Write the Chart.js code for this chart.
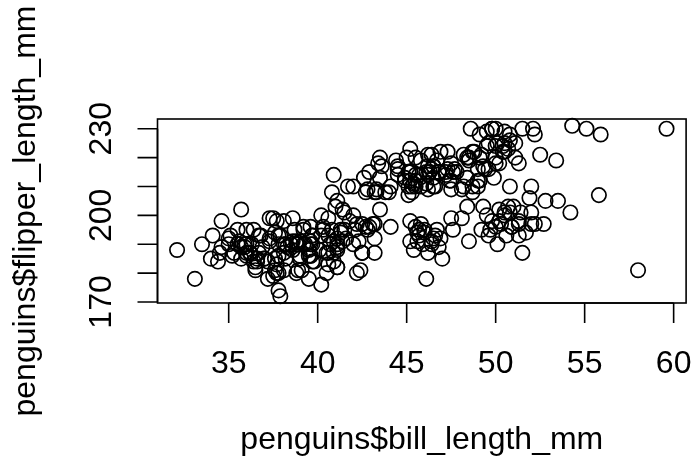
<!DOCTYPE html>
<html>
<head>
<meta charset="utf-8">
<script src="https://cdn.jsdelivr.net/npm/chart.js@4/dist/chart.umd.min.js"></script>
<style>
html,body{margin:0;padding:0;background:#fff;}
canvas{display:block;}
</style>
</head>
<body>
<canvas id="c" width="695" height="457"></canvas>
<script>
// ---- data (penguins: bill_length_mm vs flipper_length_mm) ----
const adelieBill = [39.1,39.5,40.3,36.7,39.3,38.9,39.2,34.1,42.0,37.8,37.8,41.1,38.6,34.6,36.6,38.7,42.5,34.4,46.0,
37.8,37.7,35.9,38.2,38.8,35.3,40.6,40.5,37.9,40.5,
39.5,37.2,39.5,40.9,36.4,39.2,38.8,42.2,37.6,39.8,36.5,40.8,36.0,44.1,37.0,39.6,41.1,37.5,36.0,42.3,
39.6,40.1,35.0,42.0,34.5,41.4,39.0,40.6,36.5,37.6,35.7,41.3,37.6,41.1,36.4,41.6,35.5,41.1,
35.9,41.8,33.5,39.7,39.6,45.8,35.5,42.8,40.9,37.2,36.2,42.1,34.6,42.9,36.7,35.1,
37.3,41.3,36.3,36.9,38.3,38.9,35.7,41.1,34.0,39.6,36.2,40.8,38.1,40.3,33.1,43.2,
35.0,41.0,37.7,37.8,37.9,39.7,38.6,38.2,38.1,43.2,38.1,45.6,39.7,42.2,39.6,42.7,
38.6,37.3,35.7,41.1,36.2,37.7,40.2,41.4,35.2,40.6,38.8,41.5,39.0,44.1,38.5,43.1,
36.8,37.5,38.1,41.1,35.6,40.2,37.0,39.7,40.2,40.6,32.1,40.7,37.3,39.0,39.2,36.6,36.0,37.8,36.0,41.5];
const adelieFlipper = [181,186,195,193,190,181,195,193,190,186,180,182,191,198,185,195,197,184,194,
174,180,189,185,180,187,183,187,172,180,
178,178,188,184,195,196,190,180,181,184,182,195,186,196,185,190,182,179,190,191,
186,188,190,200,187,191,186,193,181,194,185,195,185,192,184,192,195,188,
190,198,190,190,196,197,190,195,191,184,187,195,189,196,187,193,
191,194,190,189,189,190,202,205,185,186,187,208,190,196,178,192,
192,203,183,190,193,184,199,190,181,197,198,191,193,197,191,196,
188,199,189,189,187,198,176,202,186,199,191,195,191,210,190,197,
193,199,187,190,191,200,185,193,193,187,188,190,192,185,190,184,195,193,187,201];
const gentooBill = [46.1,50.0,48.7,50.0,47.6,46.5,45.4,46.7,43.3,46.8,
40.9,49.0,45.5,48.4,45.8,49.3,42.0,49.2,46.2,48.7,
50.2,45.1,46.5,46.3,42.9,46.1,44.5,47.8,48.2,50.0,
47.3,42.8,45.1,59.6,49.1,48.4,42.6,44.4,44.0,48.7,
42.7,49.6,45.3,49.6,50.5,43.6,45.5,50.5,44.9,45.2,
46.6,48.5,45.1,50.1,46.5,45.0,43.8,45.5,43.2,50.4,
45.3,46.2,45.7,54.3,45.8,49.8,46.2,49.5,43.5,50.7,
47.7,46.4,48.2,46.5,46.4,48.6,47.5,51.1,45.2,45.2,
49.1,52.5,47.4,50.0,44.9,50.8,43.4,51.3,47.5,52.1,
47.5,52.2,45.5,49.5,44.5,50.8,49.4,46.9,48.4,51.1,
48.5,55.9,47.2,49.1,47.3,46.8,41.7,53.4,43.3,48.1,
50.5,49.8,43.5,51.5,46.2,55.1,44.5,48.8,47.2,46.8,
50.4,45.2,49.9];
const gentooFlipper = [211,230,210,218,215,210,211,219,209,215,
214,216,214,213,210,217,210,221,209,222,
218,215,213,215,215,215,216,215,210,220,
222,209,207,230,220,220,213,219,208,208,
208,225,210,216,222,217,210,225,213,215,
210,220,210,225,217,220,208,220,208,224,
208,221,214,231,219,230,214,229,220,223,
216,221,221,217,216,230,209,220,215,223,
212,221,212,224,212,228,218,218,212,230,
218,228,212,224,214,226,216,222,203,225,
219,228,215,228,216,215,210,219,208,209,
229,230,213,230,217,230,217,222,214,215,
222,212,213];
const chinstrapBill = [46.5,50.0,51.3,45.4,52.7,45.2,46.1,51.3,46.0,51.3,
46.6,51.7,47.0,52.0,45.9,50.5,50.3,58.0,46.4,49.2,
42.4,48.5,43.2,50.6,46.7,52.0,50.5,49.5,46.4,52.8,
40.9,54.2,42.5,51.0,49.7,47.5,47.6,52.0,46.9,53.5,
49.0,46.2,50.9,45.5,50.9,50.8,50.1,49.0,51.5,49.8,
48.1,51.4,45.7,50.7,42.5,52.2,45.2,49.3,50.2,45.6,
51.9,46.8,45.7,55.8,43.5,49.6,50.8,50.2];
const chinstrapFlipper = [192,196,193,188,197,198,178,197,195,198,
193,194,185,201,190,201,197,181,190,195,
181,191,187,193,195,197,200,200,191,205,
187,201,187,203,195,199,195,210,192,205,
210,187,196,196,196,201,190,212,187,198,
199,201,193,203,187,197,191,203,202,194,
206,189,195,207,202,193,210,198];

const xTicks = [35,40,45,50,55,60];
const yTicks = [170,180,190,200,210,220,230];
const yTickLabels = [170,200,230];
const xTitle = "penguins$bill_length_mm";
const yTitle = "penguins$flipper_length_mm";
const xRange = [31.0, 60.7];
const yRange = [169.64, 233.36];

function pts(xs, ys){ return xs.map((v,i)=>({x:v, y:ys[i]})); }

const FONT = '32px "Liberation Sans", Arial, sans-serif';

const rAxes = {
  id: 'rAxes',
  beforeDraw(chart){
    const ctx = chart.ctx;
    ctx.save(); ctx.fillStyle = '#fff'; ctx.fillRect(0,0,chart.width,chart.height); ctx.restore();
  },
  afterDraw(chart){
    const ctx = chart.ctx, a = chart.chartArea;
    const xs = chart.scales.x, ys = chart.scales.y;
    ctx.save();
    ctx.strokeStyle = '#000'; ctx.lineWidth = 1.6; ctx.fillStyle = '#000';
    // box
    ctx.strokeRect(a.left, a.top, a.right - a.left, a.bottom - a.top);
    const tl = 20;
    // x axis
    ctx.beginPath();
    ctx.moveTo(xs.getPixelForValue(xTicks[0]), a.bottom);
    ctx.lineTo(xs.getPixelForValue(xTicks[xTicks.length-1]), a.bottom);
    xTicks.forEach(v => { const px = xs.getPixelForValue(v); ctx.moveTo(px, a.bottom); ctx.lineTo(px, a.bottom + tl); });
    // y axis
    ctx.moveTo(a.left, ys.getPixelForValue(yTicks[0]));
    ctx.lineTo(a.left, ys.getPixelForValue(yTicks[yTicks.length-1]));
    yTicks.forEach(v => { const py = ys.getPixelForValue(v); ctx.moveTo(a.left, py); ctx.lineTo(a.left - tl, py); });
    ctx.stroke();
    ctx.font = FONT;
    ctx.textAlign = 'center'; ctx.textBaseline = 'alphabetic';
    xTicks.forEach(v => ctx.fillText(String(v), xs.getPixelForValue(v), a.bottom + 70));
    yTickLabels.forEach(v => {
      ctx.save(); ctx.translate(a.left - 46.5, ys.getPixelForValue(v)); ctx.rotate(-Math.PI/2);
      ctx.fillText(String(v), 0, 0); ctx.restore();
    });
    // titles
    ctx.fillText(xTitle, (a.left + a.right)/2, a.bottom + 146);
    ctx.save(); ctx.translate(a.left - 123, (a.top + a.bottom)/2); ctx.rotate(-Math.PI/2);
    ctx.fillText(yTitle, 0, 0); ctx.restore();
    ctx.restore();
  }
};

const ds = (label, xs, ys) => ({
  label, data: pts(xs, ys),
  pointStyle: 'circle', pointRadius: 7.2, pointHoverRadius: 7.2,
  pointBorderWidth: 1.7, pointHoverBorderWidth: 1.7,
  borderColor: '#000', backgroundColor: 'rgba(0,0,0,0)',
  pointBackgroundColor: 'rgba(0,0,0,0)', pointBorderColor: '#000', clip: 8
});

new Chart(document.getElementById('c'), {
  type: 'scatter',
  data: { datasets: [
    ds('Adelie', adelieBill, adelieFlipper),
    ds('Gentoo', gentooBill, gentooFlipper),
    ds('Chinstrap', chinstrapBill, chinstrapFlipper)
  ]},
  options: {
    responsive: false, animation: false, devicePixelRatio: 1,
    events: [],
    layout: { padding: { left: 157.5, top: 119, right: 7.3, bottom: 154 } },
    plugins: { legend: { display: false }, tooltip: { enabled: false } },
    scales: {
      x: { type: 'linear', min: xRange[0], max: xRange[1], display: false },
      y: { type: 'linear', min: yRange[0], max: yRange[1], display: false }
    }
  },
  plugins: [rAxes]
});
</script>
</body>
</html>
